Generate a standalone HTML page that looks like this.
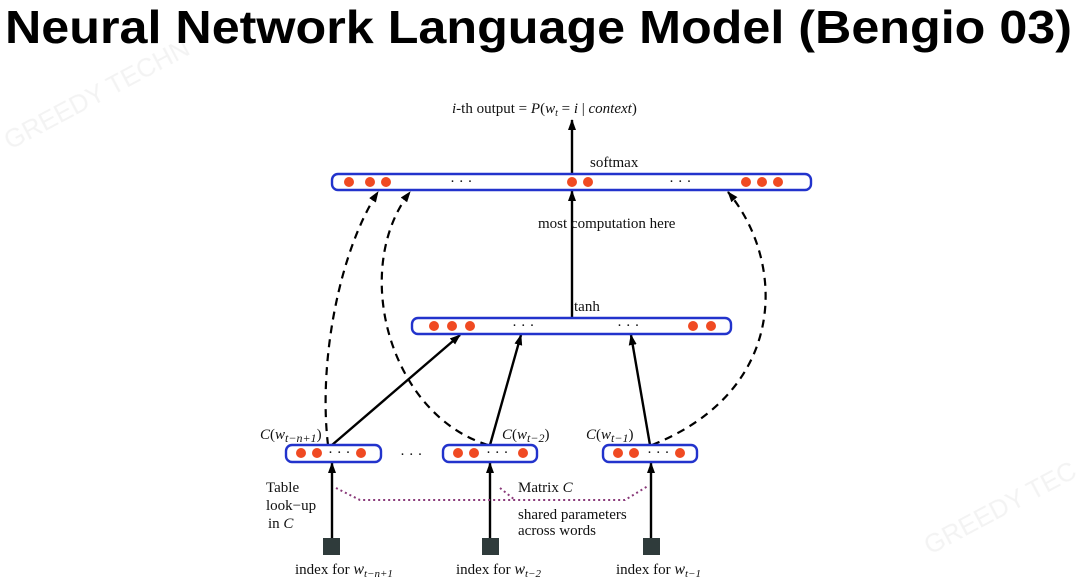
<!DOCTYPE html>
<html><head><meta charset="utf-8"><style>
html,body{margin:0;padding:0;background:#fff;width:1080px;height:580px;overflow:hidden}
svg{display:block}
.t{font-family:"Liberation Serif",serif;font-size:15px;fill:#111}
</style></head><body>
<svg width="1080" height="580" viewBox="0 0 1080 580" xmlns="http://www.w3.org/2000/svg">
<defs>
<marker id="a" markerWidth="11" markerHeight="8" refX="10" refY="4" orient="auto" markerUnits="userSpaceOnUse">
<path d="M0,0 L11,4 L0,8 Z" fill="#000"/></marker>
</defs>
<g fill="#ececec" font-family="Liberation Sans,sans-serif" font-size="26" opacity="0.6">
<text x="10" y="150" transform="rotate(-28 10 150)">GREEDY TECHN</text>
<text x="930" y="555" transform="rotate(-28 930 555)">GREEDY TEC</text>
</g>
<text x="5" y="43" font-family="Liberation Sans,Arial,sans-serif" font-weight="bold" font-size="46" textLength="1067" lengthAdjust="spacingAndGlyphs" fill="#000">Neural Network Language Model (Bengio 03)</text>

<text class="t" x="452" y="113" font-size="15"><tspan font-style="italic">i</tspan>-th output = <tspan font-style="italic">P</tspan>(<tspan font-style="italic">w</tspan><tspan font-style="italic" font-size="10" dy="3">t</tspan><tspan dy="-3"> = </tspan><tspan font-style="italic">i</tspan> | <tspan font-style="italic">context</tspan>)</text>

<!-- dashed curves -->
<g fill="none" stroke="#000" stroke-width="2.2" stroke-dasharray="8,6">
<path d="M328,445 C318,360 340,250 378,192" marker-end="url(#a)"/>
<path d="M488,445 C390,415 350,270 410,192" marker-end="url(#a)"/>
<path d="M652,445 C790,390 785,260 728,192" marker-end="url(#a)"/>
</g>
<!-- solid arrows -->
<g stroke="#000" stroke-width="2.4" fill="none">
<line x1="572" y1="174" x2="572" y2="120" marker-end="url(#a)"/>
<line x1="572" y1="318" x2="572" y2="191" marker-end="url(#a)"/>
<line x1="332" y1="445" x2="460" y2="335" marker-end="url(#a)"/>
<line x1="490" y1="445" x2="521" y2="335" marker-end="url(#a)"/>
<line x1="650" y1="445" x2="631" y2="335" marker-end="url(#a)"/>
<line x1="332" y1="538" x2="332" y2="463" marker-end="url(#a)"/>
<line x1="490" y1="538" x2="490" y2="463" marker-end="url(#a)"/>
<line x1="651" y1="538" x2="651" y2="463" marker-end="url(#a)"/>
</g>
<!-- purple dotted -->
<g fill="none" stroke="#8a3a7a" stroke-width="2" stroke-dasharray="2,3">
<path d="M336,488 L360,500 L625,500 L648,486"/>
<path d="M500,488 L515,500"/>
</g>
<!-- boxes -->
<g fill="#fff" stroke="#2233cc" stroke-width="2.4">
<rect x="332" y="174" width="479" height="16" rx="6"/>
<rect x="412" y="318" width="319" height="16" rx="6"/>
<rect x="286" y="445" width="95" height="17" rx="6"/>
<rect x="443" y="445" width="94" height="17" rx="6"/>
<rect x="603" y="445" width="94" height="17" rx="6"/>
</g>
<g fill="#f04a22">
<circle cx="349" cy="182" r="5"/><circle cx="370" cy="182" r="5"/><circle cx="386" cy="182" r="5"/>
<circle cx="572" cy="182" r="5"/><circle cx="588" cy="182" r="5"/>
<circle cx="746" cy="182" r="5"/><circle cx="762" cy="182" r="5"/><circle cx="778" cy="182" r="5"/>
<circle cx="434" cy="326" r="5"/><circle cx="452" cy="326" r="5"/><circle cx="470" cy="326" r="5"/>
<circle cx="693" cy="326" r="5"/><circle cx="711" cy="326" r="5"/>
<circle cx="301" cy="453" r="5"/><circle cx="317" cy="453" r="5"/><circle cx="361" cy="453" r="5"/>
<circle cx="458" cy="453" r="5"/><circle cx="474" cy="453" r="5"/><circle cx="523" cy="453" r="5"/>
<circle cx="618" cy="453" r="5"/><circle cx="634" cy="453" r="5"/><circle cx="680" cy="453" r="5"/>
</g>
<g class="t" font-size="13">
<text x="450" y="186">· · ·</text><text x="669" y="186">· · ·</text>
<text x="512" y="330">· · ·</text><text x="617" y="330">· · ·</text>
<text x="328" y="457">· · ·</text><text x="486" y="457">· · ·</text><text x="647" y="457">· · ·</text>
<text x="400" y="459">· · ·</text>
</g>
<rect x="323" y="538" width="17" height="17" fill="#2f3b3b"/>
<rect x="482" y="538" width="17" height="17" fill="#2f3b3b"/>
<rect x="643" y="538" width="17" height="17" fill="#2f3b3b"/>

<text class="t" x="590" y="167">softmax</text>
<text class="t" x="538" y="228">most  computation here</text>
<text class="t" x="574" y="311">tanh</text>
<text class="t" x="260" y="439" font-size="17"><tspan font-style="italic">C</tspan>(<tspan font-style="italic">w</tspan><tspan font-style="italic" font-size="12" dy="3">t−n+1</tspan><tspan dy="-3">)</tspan></text>
<text class="t" x="502" y="439" font-size="17"><tspan font-style="italic">C</tspan>(<tspan font-style="italic">w</tspan><tspan font-style="italic" font-size="12" dy="3">t−2</tspan><tspan dy="-3">)</tspan></text>
<text class="t" x="586" y="439" font-size="17"><tspan font-style="italic">C</tspan>(<tspan font-style="italic">w</tspan><tspan font-style="italic" font-size="12" dy="3">t−1</tspan><tspan dy="-3">)</tspan></text>
<text class="t" x="266" y="492">Table</text>
<text class="t" x="266" y="510">look−up</text>
<text class="t" x="268" y="528">in <tspan font-style="italic">C</tspan></text>
<text class="t" x="518" y="492">Matrix <tspan font-style="italic">C</tspan></text>
<text class="t" x="518" y="519">shared parameters</text>
<text class="t" x="518" y="535">across words</text>
<text class="t" x="295" y="574">index for <tspan font-style="italic" font-size="16">w</tspan><tspan font-style="italic" font-size="11" dy="3">t−n+1</tspan></text>
<text class="t" x="456" y="574">index for <tspan font-style="italic" font-size="16">w</tspan><tspan font-style="italic" font-size="11" dy="3">t−2</tspan></text>
<text class="t" x="616" y="574">index for <tspan font-style="italic" font-size="16">w</tspan><tspan font-style="italic" font-size="11" dy="3">t−1</tspan></text>
</svg>
</body></html>
